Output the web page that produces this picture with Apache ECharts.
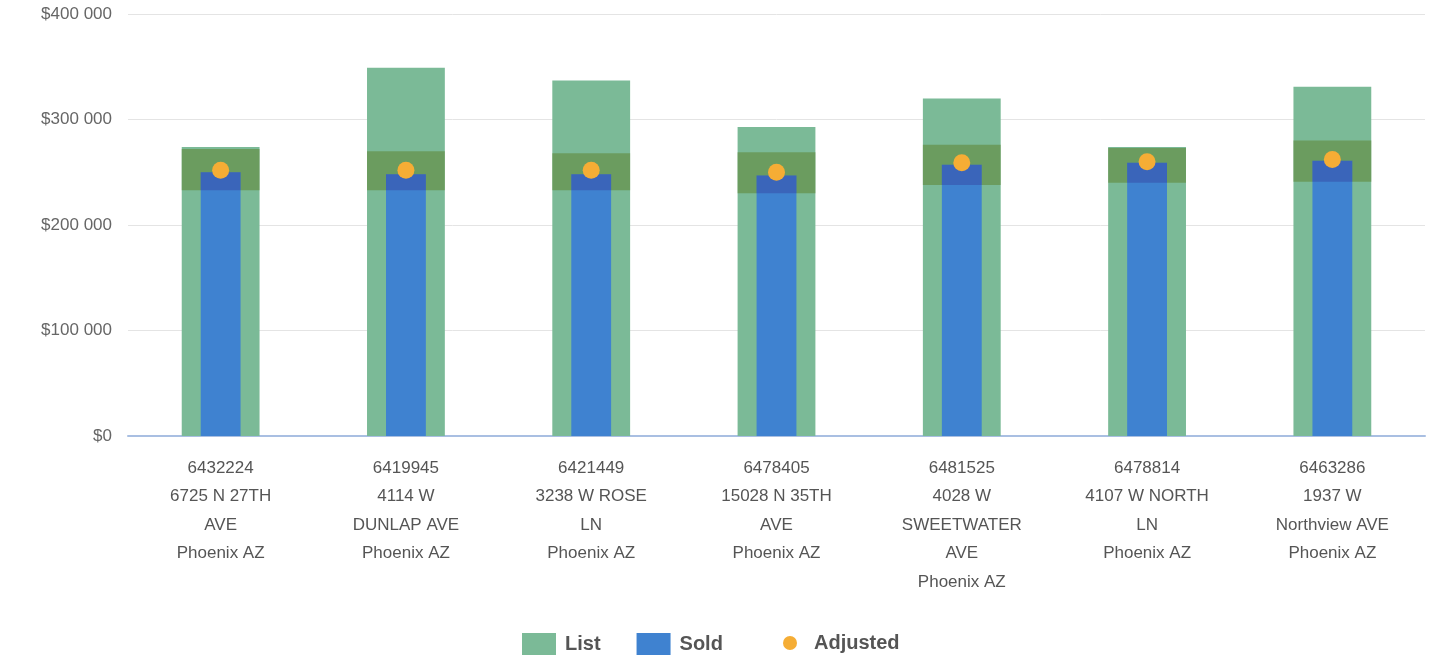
<!DOCTYPE html>
<html>
<head>
<meta charset="utf-8">
<title>List vs Sold vs Adjusted</title>
<script src="https://cdn.jsdelivr.net/npm/echarts@6/dist/echarts.min.js"></script>
<style>
  html, body { margin: 0; padding: 0; background: #ffffff; }
  #chart { width: 1432px; height: 660px; }
</style>
</head>
<body>
<div id="chart"></div>
<script>
// Comparable listings: MLS number, street address, city
const categories = [
  '6432224\n6725 N 27TH\nAVE\nPhoenix AZ',
  '6419945\n4114 W\nDUNLAP AVE\nPhoenix AZ',
  '6421449\n3238 W ROSE\nLN\nPhoenix AZ',
  '6478405\n15028 N 35TH\nAVE\nPhoenix AZ',
  '6481525\n4028 W\nSWEETWATER\nAVE\nPhoenix AZ',
  '6478814\n4107 W NORTH\nLN\nPhoenix AZ',
  '6463286\n1937 W\nNorthview AVE\nPhoenix AZ'
];

// Prices in dollars
const listPrice = [274000, 349000, 337000, 293000, 320000, 274000, 331000];
const soldPrice = [250000, 248000, 248000, 247000, 257000, 259000, 261000];
const adjustedPrice = [252000, 252000, 252000, 250000, 259000, 260000, 262000];

// Adjusted value range shown as a band
const rangeLow = [233000, 233000, 233000, 230000, 238000, 240000, 241000];
const rangeHigh = [272000, 270000, 268000, 269000, 276000, 273000, 280000];

const yTicks = { min: 0, max: 400000, interval: 100000 };

const LIST_W = 0.42;
const SOLD_W = 0.215;

const rangeData = categories.map((c, i) => [i, rangeLow[i], rangeHigh[i], soldPrice[i]]);

function moneyLabel(v) {
  return '$' + String(v).replace(/\B(?=(\d{3})+(?!\d))/g, ' ');
}

// Band drawn across the list bar (under the sold bar)
function renderBand(params, api) {
  const x = api.value(0);
  const lo = api.coord([x, api.value(1)]);
  const hi = api.coord([x, api.value(2)]);
  const w = api.size([1, 0])[0] * LIST_W;
  return {
    type: 'rect',
    shape: { x: lo[0] - w / 2, y: hi[1], width: w, height: lo[1] - hi[1] },
    style: { fill: 'rgba(96, 136, 58, 0.6)' }
  };
}

// Same band where it crosses the sold bar
function renderBandOnSold(params, api) {
  const x = api.value(0);
  const top = Math.min(api.value(2), api.value(3));
  const lo = api.coord([x, api.value(1)]);
  const hi = api.coord([x, top]);
  const w = api.size([1, 0])[0] * SOLD_W;
  return {
    type: 'rect',
    shape: { x: lo[0] - w / 2, y: hi[1], width: w, height: lo[1] - hi[1] },
    style: { fill: 'rgba(50, 40, 140, 0.32)' }
  };
}

const chart = echarts.init(document.getElementById('chart'), null, { renderer: 'canvas' });

const hiddenX = {
  type: 'category',
  data: categories,
  show: false
};

chart.setOption({
  animation: false,
  backgroundColor: '#ffffff',
  textStyle: { fontFamily: 'Liberation Sans, Arial, sans-serif' },
  grid: { left: 128, right: 7, top: 14, bottom: 224 },
  legend: [
    {
      data: [{ name: 'List', icon: 'rect' }, { name: 'Sold', icon: 'rect' }],
      left: 517,
      top: 628,
      itemWidth: 34,
      itemHeight: 22,
      itemGap: 36,
      textStyle: { fontSize: 20, fontWeight: 'bold', color: '#555555', padding: [0, 0, 0, 4] },
      selectedMode: false
    },
    {
      data: [{ name: 'Adjusted', icon: 'circle' }],
      left: 778,
      top: 628,
      itemWidth: 14,
      itemHeight: 14,
      itemGap: 10,
      textStyle: { fontSize: 20, fontWeight: 'bold', color: '#555555', padding: [0, 0, 0, 12] },
      selectedMode: false
    }
  ],
  xAxis: [
    {
      type: 'category',
      data: categories,
      axisLine: { lineStyle: { color: '#a9bfe2', width: 2 } },
      axisTick: { show: false },
      axisLabel: {
        interval: 0,
        color: '#555555',
        fontSize: 17,
        lineHeight: 28.5,
        margin: 18
      }
    },
    Object.assign({}, hiddenX),
    Object.assign({}, hiddenX)
  ],
  yAxis: {
    type: 'value',
    min: yTicks.min,
    max: yTicks.max,
    interval: yTicks.interval,
    axisLine: { show: false },
    axisTick: { show: false },
    splitLine: { lineStyle: { color: '#e4e4e4', width: 1 } },
    axisLabel: {
      color: '#666666',
      fontSize: 17,
      margin: 16,
      formatter: moneyLabel
    }
  },
  series: [
    {
      name: 'List',
      type: 'bar',
      xAxisIndex: 0,
      data: listPrice,
      barWidth: (LIST_W * 100) + '%',
      itemStyle: { color: '#7bba97' },
      z: 2
    },
    {
      name: 'Range',
      type: 'custom',
      xAxisIndex: 2,
      data: rangeData,
      encode: { x: 0, y: [1, 2] },
      renderItem: renderBand,
      z: 3,
      silent: true
    },
    {
      name: 'Sold',
      type: 'bar',
      xAxisIndex: 1,
      data: soldPrice,
      barWidth: (SOLD_W * 100) + '%',
      itemStyle: { color: '#3f82d0' },
      z: 4
    },
    {
      name: 'RangeOnSold',
      type: 'custom',
      xAxisIndex: 2,
      data: rangeData,
      encode: { x: 0, y: [1, 2] },
      renderItem: renderBandOnSold,
      z: 5,
      silent: true
    },
    {
      name: 'Adjusted',
      type: 'scatter',
      xAxisIndex: 0,
      data: adjustedPrice,
      symbol: 'circle',
      symbolSize: 17,
      itemStyle: { color: '#f5ad35', opacity: 1 },
      z: 6
    }
  ]
});
</script>
</body>
</html>
